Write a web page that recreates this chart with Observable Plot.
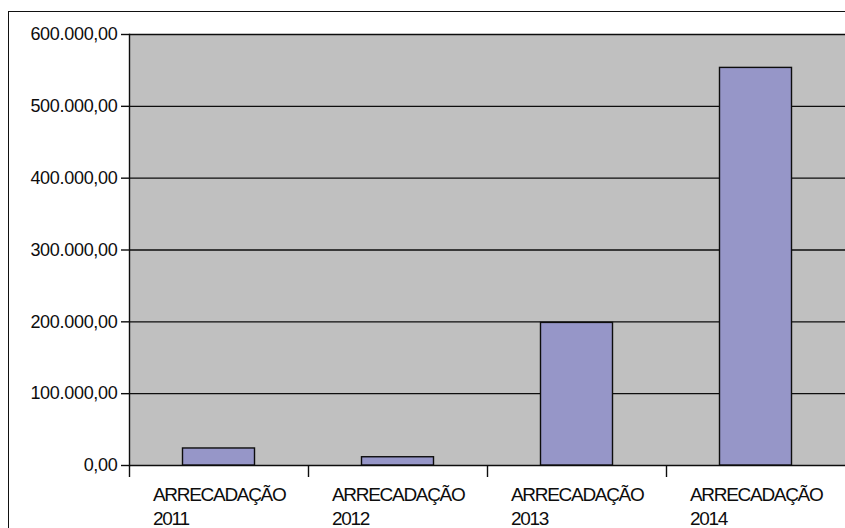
<!DOCTYPE html>
<html>
<head>
<meta charset="utf-8">
<script src="https://cdn.jsdelivr.net/npm/d3@7"></script>
<script src="https://cdn.jsdelivr.net/npm/@observablehq/plot@0.6"></script>
<style>
  html, body { margin: 0; padding: 0; background: #fff; overflow: hidden; }
  #wrap { position: relative; width: 845px; height: 528px; }
  #border { position: absolute; left: 8px; top: 11px; width: 900px; height: 600px;
            border-left: 1.3px solid #111; border-top: 1.3px solid #111; pointer-events: none; }
  svg text { font-family: "Liberation Sans", Arial, sans-serif; }
  svg g[font-size="19"] text { letter-spacing: -1.3px; }
  svg g[font-size="18"] text { letter-spacing: -0.3px; }
</style>
</head>
<body>
<div id="wrap"><div id="border"></div></div>
<script>
// Arrecadação anual (R$)
const years = ["2011", "2012", "2013", "2014"];
const values = [23700, 11500, 198500, 553500];
const yTicks = [0, 100000, 200000, 300000, 400000, 500000, 600000];
const labelPrefix = "ARRECADAÇÃO";

const data = years.map((year, i) => ({year, value: values[i]}));

const ptBR = d3.formatLocale({decimal: ",", thousands: ".", grouping: [3], currency: ["R$", ""]});
const fmt = ptBR.format(",.2f");

const width = 845, marginLeft = 129, marginRight = 0;
const step = (width - marginLeft - marginRight) / years.length;
const barInset = 53.5;
const ink = "#0d0d0d";

const chart = Plot.plot({
  width,
  height: 528,
  marginLeft,
  marginRight,
  marginTop: 34,
  marginBottom: 63,
  style: {background: "transparent", color: ink, overflow: "visible"},
  x: {domain: years, padding: 0, axis: null},
  y: {domain: [0, 600000], axis: null},
  marks: [
    Plot.frame({fill: "#c0c0c0", stroke: null}),
    Plot.gridY(yTicks, {stroke: ink, strokeOpacity: 1, strokeWidth: 1.4}),
    Plot.barY(data, {x: "year", y: "value", fill: "#9696c8", stroke: ink, strokeWidth: 1.4,
                     insetLeft: barInset, insetRight: barInset}),
    Plot.frame({anchor: "left", stroke: ink, strokeWidth: 1.4}),
    Plot.axisY(yTicks, {label: null, tickSize: 8, tickPadding: 4, tickFormat: fmt, stroke: ink,
                        strokeWidth: 1.4, fontSize: 18, fill: ink}),
    // boundary ticks between categories
    Plot.axisX({label: null, tickSize: 12, tickFormat: () => "", dx: -step / 2, stroke: ink, strokeWidth: 1.4}),
    Plot.axisX({label: null, tickSize: 0, tickPadding: 18, textAnchor: "start", dx: -66, lineHeight: 1.28,
                fontSize: 19, fill: ink, tickFormat: d => `${labelPrefix}\n${d}`})
  ]
});
document.getElementById("wrap").prepend(chart);
</script>
</body>
</html>
